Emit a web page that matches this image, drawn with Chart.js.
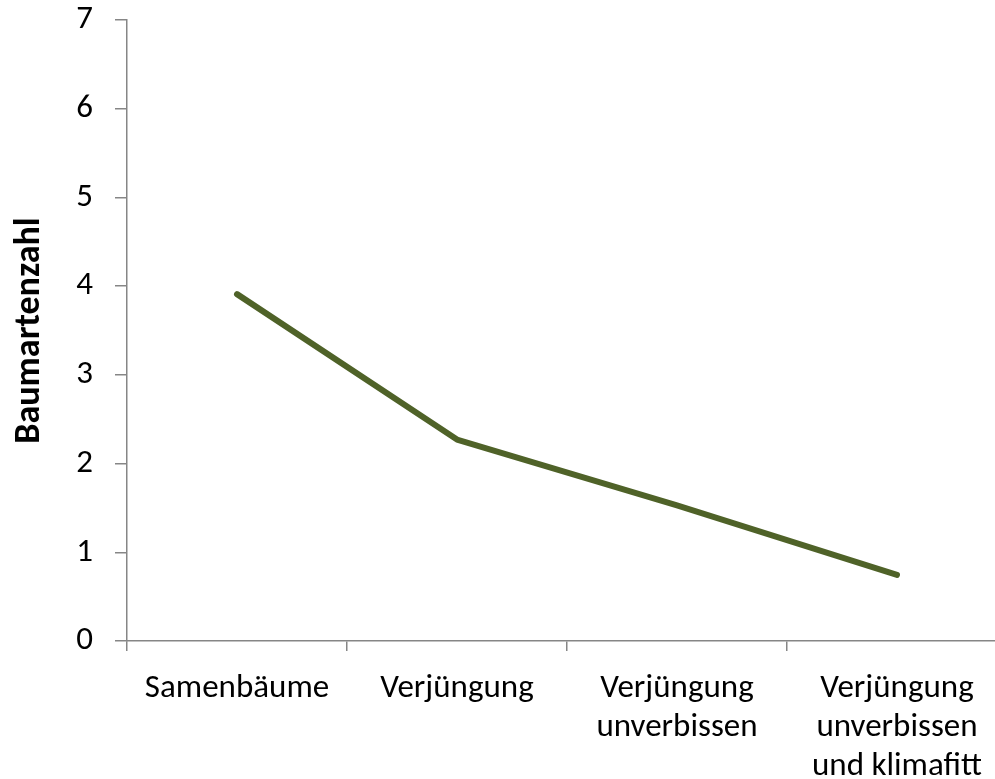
<!DOCTYPE html>
<html>
<head>
<meta charset="utf-8">
<script src="https://cdn.jsdelivr.net/npm/chart.js@4.4.1/dist/chart.umd.min.js"></script>
<style>
  html, body { margin: 0; padding: 0; background: #fff; overflow: hidden; }
  #wrap { width: 1010px; height: 779px; position: relative; }
</style>
</head>
<body>
<div id="wrap"><canvas id="c"></canvas></div>
<script>
const categories = [
  ["Samenbäume"],
  ["Verjüngung"],
  ["Verjüngung", "unverbissen"],
  ["Verjüngung", "unverbissen", "und klimafitt"]
];
const baumartenzahl = [3.91, 2.27, 1.53, 0.745];
const yTicks = [0, 1, 2, 3, 4, 5, 6, 7];
const yTitle = "Baumartenzahl";

const FONT = "Carlito, Lato, 'Liberation Sans', sans-serif";
const AXIS = "#868686";

new Chart(document.getElementById("c"), {
  type: "line",
  data: {
    labels: categories,
    datasets: [{
      data: baumartenzahl,
      borderColor: "#4F6228",
      borderWidth: 6,
      borderCapStyle: "round",
      borderJoinStyle: "round",
      pointRadius: 0,
      tension: 0,
      fill: false
    }]
  },
  options: {
    responsive: true,
    maintainAspectRatio: false,
    animation: false,
    events: [],
    layout: { padding: { top: 0, right: 3, left: 0, bottom: 0 } },
    plugins: { legend: { display: false }, tooltip: { enabled: false } },
    scales: {
      x: {
        type: "category",
        offset: true,
        grid: {
          offset: true,
          drawOnChartArea: false,
          drawTicks: true,
          tickLength: 10,
          color: AXIS,
          lineWidth: 1.5
        },
        border: { display: true, color: AXIS, width: 1.5 },
        ticks: {
          color: "#000",
          font: { family: FONT, size: 33, lineHeight: 1.18 },
          padding: 18,
          maxRotation: 0,
          autoSkip: false
        },
        afterFit: s => { s.height = 138; }
      },
      y: {
        min: 0,
        max: 7,
        afterBuildTicks: s => { s.ticks = yTicks.map(v => ({ value: v })); },
        grid: {
          drawOnChartArea: false,
          drawTicks: true,
          tickLength: 12,
          color: AXIS,
          lineWidth: 1.5
        },
        border: { display: true, color: AXIS, width: 1.5 },
        ticks: {
          color: "#000",
          font: { family: FONT, size: 33 },
          padding: 22
        },
        title: {
          display: true,
          text: yTitle,
          color: "#000",
          font: { family: FONT, size: 36, weight: "bold" },
          padding: { top: 8, bottom: 0 }
        },
        afterFit: s => { s.width = 127; s.paddingTop = 20; s.paddingBottom = 20; }
      }
    }
  }
});
</script>
</body>
</html>
